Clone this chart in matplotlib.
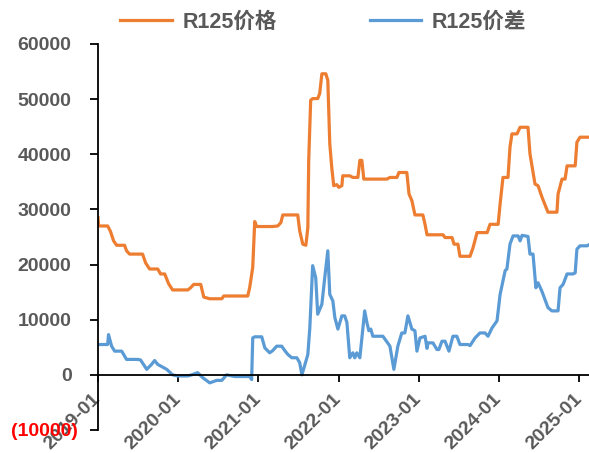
import numpy as np
import pandas as pd
import matplotlib
matplotlib.use("Agg")
import matplotlib.pyplot as plt
import matplotlib.dates as mdates
import matplotlib.transforms as mtransforms
from matplotlib.ticker import FixedLocator, FuncFormatter

plt.rcParams["font.family"] = ["Liberation Sans", "Noto Sans CJK SC", "DejaVu Sans"]
plt.rcParams["font.weight"] = "bold"

# R125 price (orange)
price_dates = [
    "2019-01-01", "2019-01-04", "2019-02-14", "2019-02-27", "2019-03-13", "2019-03-27",
    "2019-05-02", "2019-05-11", "2019-05-25", "2019-07-23", "2019-08-06", "2019-08-24",
    "2019-09-30", "2019-10-13", "2019-11-01", "2019-11-19", "2019-12-07", "2020-02-14",
    "2020-02-27", "2020-03-12", "2020-04-13", "2020-04-27", "2020-05-24", "2020-07-18",
    "2020-07-27", "2020-11-13", "2020-11-22", "2020-12-06", "2020-12-15", "2020-12-24",
    "2021-03-07", "2021-03-30", "2021-04-13", "2021-04-22", "2021-06-29", "2021-07-08",
    "2021-07-22", "2021-08-05", "2021-08-14", "2021-08-18", "2021-08-27", "2021-09-05",
    "2021-09-28", "2021-10-07", "2021-10-17", "2021-11-04", "2021-11-13", "2021-11-22",
    "2021-12-01", "2021-12-10", "2021-12-24", "2022-01-02", "2022-01-16", "2022-01-20",
    "2022-02-21", "2022-03-07", "2022-03-30", "2022-04-08", "2022-04-17", "2022-04-26",
    "2022-08-09", "2022-08-23", "2022-09-24", "2022-10-03", "2022-11-08", "2022-11-18",
    "2022-12-01", "2022-12-15", "2023-01-20", "2023-01-30", "2023-02-08", "2023-04-22",
    "2023-05-01", "2023-06-02", "2023-06-11", "2023-06-29", "2023-07-08", "2023-08-23",
    "2023-09-06", "2023-09-24", "2023-11-09", "2023-11-22", "2023-12-29", "2024-01-07",
    "2024-01-20", "2024-02-12", "2024-02-21", "2024-03-01", "2024-03-24", "2024-04-07",
    "2024-05-13", "2024-05-22", "2024-06-14", "2024-06-28", "2024-07-16", "2024-07-29",
    "2024-08-12", "2024-09-22", "2024-09-27", "2024-10-15", "2024-10-29", "2024-11-07",
    "2024-12-14", "2024-12-22", "2025-01-05", "2025-02-15",
]
price_values = [
    28500, 27000, 27000, 26000, 24300, 23500,
    23500, 22500, 21900, 21900, 20300, 19200,
    19200, 18300, 18300, 16500, 15400, 15400,
    15800, 16400, 16400, 14100, 13800, 13800,
    14300, 14300, 15800, 19500, 27800, 26900,
    26900, 27000, 27600, 29000, 29000, 26100,
    23700, 23500, 26700, 38900, 49800, 50100,
    50100, 51000, 54600, 54600, 53400, 41900,
    37600, 34300, 34500, 34000, 34300, 36100,
    36100, 35800, 35800, 38900, 38900, 35500,
    35500, 35800, 35800, 36700, 36700, 32800,
    31600, 29000, 29000, 27300, 25400, 25400,
    24900, 24900, 23700, 23700, 21500, 21500,
    23100, 25800, 25800, 27300, 27300, 31000,
    35800, 35800, 41300, 43700, 43700, 44900,
    44900, 40100, 34600, 34300, 32200, 30900,
    29500, 29500, 32800, 35500, 35500, 37900,
    37900, 42200, 43100, 43100,
]

# R125 spread (blue)
spread_dates = [
    "2019-01-01", "2019-02-14", "2019-02-18", "2019-03-04", "2019-03-18", "2019-04-19",
    "2019-05-11", "2019-07-01", "2019-07-14", "2019-08-11", "2019-09-02", "2019-09-16",
    "2019-09-30", "2019-11-10", "2019-12-07", "2019-12-30", "2020-02-14", "2020-03-03",
    "2020-03-30", "2020-04-22", "2020-05-24", "2020-06-25", "2020-07-18", "2020-08-09",
    "2020-09-15", "2020-11-22", "2020-12-01", "2020-12-06", "2020-12-15", "2021-01-16",
    "2021-01-30", "2021-02-21", "2021-03-07", "2021-03-25", "2021-04-17", "2021-05-01",
    "2021-05-15", "2021-06-02", "2021-06-25", "2021-07-08", "2021-07-18", "2021-08-01",
    "2021-08-14", "2021-08-23", "2021-09-05", "2021-09-19", "2021-09-28", "2021-10-17",
    "2021-10-30", "2021-11-13", "2021-11-22", "2021-12-06", "2021-12-15", "2021-12-29",
    "2022-01-16", "2022-01-29", "2022-02-08", "2022-02-21", "2022-03-07", "2022-03-16",
    "2022-03-25", "2022-04-08", "2022-04-30", "2022-05-10", "2022-05-19", "2022-05-28",
    "2022-06-06", "2022-07-22", "2022-08-09", "2022-08-23", "2022-09-10", "2022-09-28",
    "2022-10-16", "2022-10-30", "2022-11-13", "2022-12-01", "2022-12-15", "2022-12-24",
    "2023-01-07", "2023-01-30", "2023-02-08", "2023-02-12", "2023-03-07", "2023-03-25",
    "2023-04-03", "2023-04-17", "2023-05-01", "2023-05-19", "2023-06-06", "2023-06-24",
    "2023-07-08", "2023-08-14", "2023-08-23", "2023-09-15", "2023-10-07", "2023-10-30",
    "2023-11-13", "2023-12-01", "2023-12-24", "2024-01-07", "2024-01-30", "2024-02-07",
    "2024-02-21", "2024-03-06", "2024-03-29", "2024-04-07", "2024-04-16", "2024-05-13",
    "2024-05-22", "2024-06-05", "2024-06-18", "2024-06-28", "2024-07-16", "2024-07-29",
    "2024-08-12", "2024-08-30", "2024-09-27", "2024-10-06", "2024-10-20", "2024-11-07",
    "2024-12-04", "2024-12-14", "2024-12-22", "2025-01-05", "2025-02-06", "2025-02-15",
]
spread_values = [
    5500, 5500, 7300, 5200, 4300, 4300,
    2800, 2800, 2700, 1000, 1900, 2600,
    1900, 1000, 0, -200, -200, 0,
    400, -500, -1450, -1000, -1000, 0,
    -300, -300, -850, 6700, 6900, 6900,
    4900, 4000, 4400, 5200, 5200, 4400,
    3700, 3100, 3100, 2200, 0, 1900,
    3700, 8500, 19800, 17600, 11000, 12800,
    17600, 22500, 14600, 13400, 10400, 8300,
    10700, 10700, 9500, 3100, 4000, 3100,
    4000, 3100, 11600, 9500, 8000, 8300,
    7000, 7000, 6000, 5200, 1000, 5200,
    7600, 7600, 10700, 8300, 8000, 4300,
    6700, 7000, 4800, 5800, 5800, 4600,
    4600, 6100, 6100, 4300, 7000, 7000,
    5500, 5500, 5300, 6700, 7600, 7600,
    7000, 8500, 9800, 14600, 18900, 19200,
    23700, 25200, 25200, 24300, 25300, 25100,
    21900, 21900, 15800, 16700, 15100, 13700,
    12200, 11600, 11600, 15800, 16400, 18300,
    18300, 18500, 22800, 23400, 23400, 23600,
]

year_ticks = ["2019-01-01", "2020-01-01", "2021-01-01", "2022-01-01",
              "2023-01-01", "2024-01-01", "2025-01-01"]
y_ticks = [-10000, 0, 10000, 20000, 30000, 40000, 50000, 60000]

ORANGE = "#ED7D31"
BLUE = "#5B9BD5"
GREY = "#595959"

fig = plt.figure(figsize=(5.89, 4.53), dpi=100)
ax = fig.add_axes([98 / 589, 1 - 430 / 453, 491 / 589, 386 / 453])

ax.plot(pd.to_datetime(price_dates), price_values, color=ORANGE, lw=2.3,
        solid_joinstyle="round", label="R125价格")
ax.plot(pd.to_datetime(spread_dates), spread_values, color=BLUE, lw=2.3,
        solid_joinstyle="round", label="R125价差")

ax.set_xlim(pd.Timestamp("2019-01-01"), pd.Timestamp("2025-02-15"))
ax.set_ylim(-10000, 60000)

ax.spines["top"].set_visible(False)
ax.spines["right"].set_visible(False)
ax.spines["bottom"].set_position(("data", 0))
ax.spines["bottom"].set_linewidth(1.3)
ax.spines["left"].set_linewidth(1.3)

ax.yaxis.set_major_locator(FixedLocator(y_ticks))
ax.yaxis.set_major_formatter(FuncFormatter(
    lambda v, p: f"({abs(int(v))})" if v < 0 else f"{int(v)}"))
ax.tick_params(axis="y", direction="out", length=6, width=1.3, pad=13,
               labelsize=14, labelcolor=GREY)
neg_shift = mtransforms.ScaledTranslation(6 / 100, 0, fig.dpi_scale_trans)
for lab in ax.get_yticklabels():
    lab.set_fontweight("bold")
    if lab.get_text().startswith("("):
        lab.set_color("red")
        lab.set_transform(lab.get_transform() + neg_shift)

ax.xaxis.set_major_locator(FixedLocator(mdates.date2num(pd.to_datetime(year_ticks))))
ax.xaxis.set_major_formatter(mdates.DateFormatter("%Y-%m"))
ax.tick_params(axis="x", direction="out", length=5, width=1.3, pad=6,
               labelsize=14, labelcolor=GREY)
x_shift = mtransforms.ScaledTranslation(-6 / 100, 0, fig.dpi_scale_trans)
for lab in ax.get_xticklabels():
    lab.set_rotation(45)
    lab.set_ha("right")
    lab.set_va("top")
    lab.set_rotation_mode("anchor")
    lab.set_fontweight("bold")
    lab.set_transform(lab.get_transform() + x_shift)

leg = fig.legend(loc="center", bbox_to_anchor=(0.549, 0.951), ncol=2, frameon=False,
                 fontsize=15.5, handlelength=2.4, handletextpad=0.5, columnspacing=4.3)
for t in leg.get_texts():
    t.set_color(GREY)
    t.set_fontweight("bold")

fig.savefig("out.png", dpi=100)
